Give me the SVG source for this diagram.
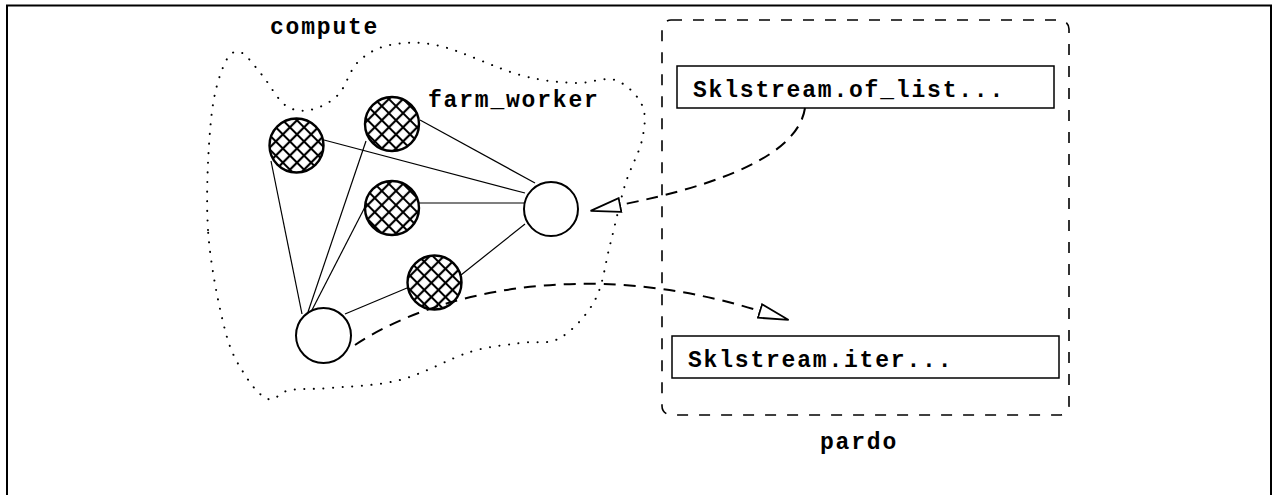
<svg xmlns="http://www.w3.org/2000/svg" width="1274" height="495" viewBox="0 0 1274 495">
<style>
.frame{fill:none;stroke:#000;stroke-width:2}
.blob{fill:none;stroke:#000;stroke-width:2;stroke-linecap:round;stroke-dasharray:0.1 9.5}
.pardo{fill:none;stroke:#000;stroke-width:1.6;stroke-dasharray:11 11}
.thin{fill:none;stroke:#000;stroke-width:1.2}
.node{fill:#fff;stroke:#000;stroke-width:2}
.hatched{fill:url(#hatch);stroke:#000;stroke-width:2.4}
.box{fill:#fff;stroke:#000;stroke-width:1.5}
.conn{fill:none;stroke:#000;stroke-width:2;stroke-dasharray:12 8}
.lbl{font-family:"Liberation Mono","Courier New",monospace;font-weight:bold;font-size:23px;letter-spacing:1.8px;fill:#000}
</style>
<defs>
<pattern id="hatch" width="10" height="10" patternUnits="userSpaceOnUse" patternTransform="rotate(45)">
<rect width="10" height="10" fill="#fff"/>
<path d="M0,5 H10 M5,0 V10" stroke="#000" stroke-width="2.2"/>
</pattern>
<marker id="tri" viewBox="-1 -1 32 16" refX="0" refY="7" markerWidth="32" markerHeight="16" markerUnits="userSpaceOnUse" orient="auto">
<path d="M0,0 L30,7 L0,14 Z" fill="#fff" stroke="#000" stroke-width="1.8" stroke-dasharray="none"/>
</marker>
</defs>
<rect class="frame" x="7" y="5.5" width="1264" height="500"/>
<g id="compute-region">
<path class="blob" d="M208,230 C205.7,195 208.3,147.5 211,120 C213.7,92.5 219.2,76.3 224,65 C228.8,53.7 233.7,50.3 240,52 C246.3,53.7 254.5,66.2 262,75 C269.5,83.8 277,99.2 285,105 C293,110.8 301.2,111.7 310,110 C318.8,108.3 330,103 338,95 C346,87 349.3,70.3 358,62 C366.7,53.7 376.3,47.7 390,45 C403.7,42.3 418.3,41 440,46 C461.7,51 497.5,68.8 520,75 C542.5,81.2 559.2,82.2 575,83 C590.8,83.8 603.8,76.3 615,80 C626.2,83.7 637.5,95 642,105 C646.5,115 644.8,126.7 642,140 C639.2,153.3 630.3,167.5 625,185 C619.7,202.5 615,225.8 610,245 C605,264.2 603.3,284.5 595,300 C586.7,315.5 572.5,330.8 560,338 C547.5,345.2 535,340.7 520,343 C505,345.3 490,345.8 470,352 C450,358.2 423.3,374 400,380 C376.7,386 348.3,386.3 330,388 C311.7,389.7 300.3,388.2 290,390 C279.7,391.8 275.5,401.5 268,399 C260.5,396.5 252.2,386.5 245,375 C237.8,363.5 231.2,354.2 225,330 C218.8,305.8 210.3,265 208,230 Z"/>
<text class="lbl" x="270" y="34">compute</text>
</g>
<g id="pardo-region">
<rect class="pardo" x="662" y="20" width="407" height="395" rx="9"/>
<text class="lbl" x="820" y="449">pardo</text>
</g>
<g id="edges">
<line class="thin" x1="324" y1="140" x2="525" y2="193"/>
<line class="thin" x1="420" y1="120" x2="535" y2="183"/>
<line class="thin" x1="419" y1="203" x2="524" y2="203"/>
<line class="thin" x1="461" y1="275" x2="525" y2="224"/>
<line class="thin" x1="271" y1="161" x2="302" y2="314"/>
<line class="thin" x1="366" y1="141" x2="308" y2="312"/>
<line class="thin" x1="366" y1="205" x2="312" y2="310"/>
<line class="thin" x1="407" y1="288" x2="345" y2="314"/>
</g>
<g id="worker1"><circle class="hatched" cx="296.5" cy="145.5" r="27"/></g>
<g id="worker2"><circle class="hatched" cx="392" cy="124" r="27"/></g>
<g id="worker3"><circle class="hatched" cx="392" cy="208" r="27"/></g>
<g id="worker4"><circle class="hatched" cx="434.5" cy="282.5" r="27"/></g>
<g id="farm-in"><circle class="node" cx="551" cy="209" r="27"/></g>
<g id="farm-out"><circle class="node" cx="323.5" cy="335.5" r="27.5"/></g>
<g id="farm-label"><text class="lbl" x="428" y="107">farm_worker</text></g>
<g id="of-list">
<rect class="box" x="677" y="66" width="377" height="42"/>
<text class="lbl" x="693" y="97">Sklstream.of_list...</text>
</g>
<g id="iter">
<rect class="box" x="672" y="336" width="387" height="42"/>
<text class="lbl" x="688" y="367">Sklstream.iter...</text>
</g>
<g id="connectors">
<path class="conn" d="M805,108 C798,155 720,185 620,205" marker-end="url(#tri)"/>
<path class="conn" d="M355,345 C430,295 580,255 760,311" marker-end="url(#tri)"/>
</g>
</svg>
